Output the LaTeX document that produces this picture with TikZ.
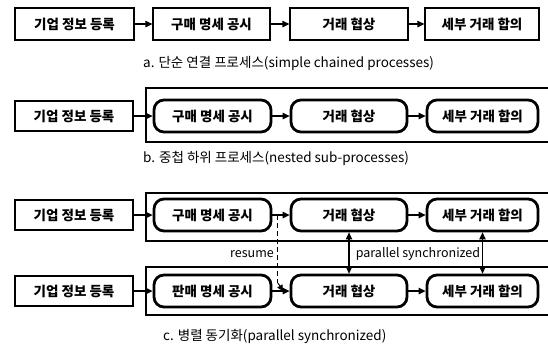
\documentclass[tikz,border=0pt]{standalone}
\usepackage{fontspec}
\setmainfont{Noto Sans CJK KR}
\usetikzlibrary{arrows.meta,calc}

\begin{document}
\begin{tikzpicture}[x=1pt,y=-1pt,
  plainbox/.style={draw, line width=1.3pt, minimum height=30pt, inner sep=0pt,
    font=\bfseries\fontsize{13.5}{15}\selectfont},
  subbox/.style={draw, line width=2.8pt, rounded corners=10pt, minimum height=32pt, inner sep=0pt,
    font=\bfseries\fontsize{13.5}{15}\selectfont},
  frame/.style={line width=1.1pt},
  flow/.style={-{Triangle[length=7pt,width=6.5pt]}, line width=1.3pt},
  sync/.style={{Triangle[length=7pt,width=6.5pt]}-{Triangle[length=7pt,width=6.5pt]}, line width=1.1pt},
  captext/.style={anchor=west, inner sep=0pt, font=\fontsize{13.5}{15}\selectfont},
  tag/.style={inner sep=0pt, font=\fontsize{12.5}{14}\selectfont}
]
\useasboundingbox (0,0) rectangle (548,349);

% --- a. simple chained processes
\node[plainbox, minimum width=119pt, minimum height=32pt] (a1) at (74.5,24) {기업 정보 등록};
\node[plainbox, minimum width=117pt, minimum height=32pt] (a2) at (211.5,24) {구매 명세 공시};
\node[plainbox, minimum width=118pt, minimum height=32pt] (a3) at (349,24) {거래 협상};
\node[plainbox, minimum width=114pt, minimum height=32pt] (a4) at (482,24) {세부 거래 합의};
\draw[flow] (a1) -- (a2);
\draw[flow] (a2) -- (a3);
\draw[flow] (a3) -- (a4);
\node[captext] (capa) at (143,63) {a. 단순 연결 프로세스(simple chained processes)};

% --- b. nested sub-processes
\draw[frame] (548,88) -- (146,88) -- (146,142) -- (548,142);
\node[plainbox, minimum width=118pt] (b1) at (74,116) {기업 정보 등록};
\node[subbox, minimum width=117pt] (b2) at (212.5,116) {구매 명세 공시};
\node[subbox, minimum width=116pt] (b3) at (349,116) {거래 협상};
\node[subbox, minimum width=111pt] (b4) at (482.5,116) {세부 거래 합의};
\draw[flow] (b1) -- (b2);
\draw[flow] (b2) -- (b3);
\draw[flow] (b3) -- (b4);
\node[captext] (capb) at (143,158) {b. 중첩 하위 프로세스(nested sub-processes)};

% --- c. parallel synchronized
\draw[frame] (548,193) -- (146,193) -- (146,241) -- (548,241);
\draw[frame] (548,267) -- (146,267) -- (146,315) -- (548,315);
\node[plainbox, minimum width=118pt] (c1) at (74,215) {기업 정보 등록};
\node[subbox, minimum width=117pt] (c2) at (212.5,215) {구매 명세 공시};
\node[subbox, minimum width=116pt] (c3) at (349,215) {거래 협상};
\node[subbox, minimum width=111pt] (c4) at (482.5,215) {세부 거래 합의};
\node[plainbox, minimum width=118pt] (d1) at (74,291) {기업 정보 등록};
\node[subbox, minimum width=117pt] (d2) at (212.5,291) {판매 명세 공시};
\node[subbox, minimum width=116pt] (d3) at (349,291) {거래 협상};
\node[subbox, minimum width=111pt] (d4) at (482.5,291) {세부 거래 합의};
\draw[flow] (c1) -- (c2);
\draw[flow] (c2) -- (c3);
\draw[flow] (c3) -- (c4);
\draw[flow] (d1) -- (d2);
\draw[flow] (d2) -- (d3);
\draw[flow] (d3) -- (d4);
\draw[sync] (c3.south) -- (d3.north);
\draw[sync] (c4.south) -- (d4.north);

% resume: dashed hand-over from the upper chain to the lower one
\coordinate (rtop) at ($(c2.east)!0.32!(c3.west)$);
\coordinate (rbend) at ($(d2.east)!0.32!(d3.west)+(0,-8)$);
\coordinate (rend) at ($(d2.east)!0.62!(d3.west)$);
\draw[line width=1pt, dash pattern=on 5pt off 3pt] (rtop) -- (rbend);
\draw[line width=1pt, -{Triangle[length=6pt,width=6pt]}] (rbend) -- (rend);
\node[tag, anchor=east] (lres) at (274,254) {resume};
\node[tag] (lsync) at (418,254) {parallel synchronized};

\node[captext] (capc) at (163,336) {c. 병렬 동기화(parallel synchronized)};
\end{tikzpicture}
\end{document}
